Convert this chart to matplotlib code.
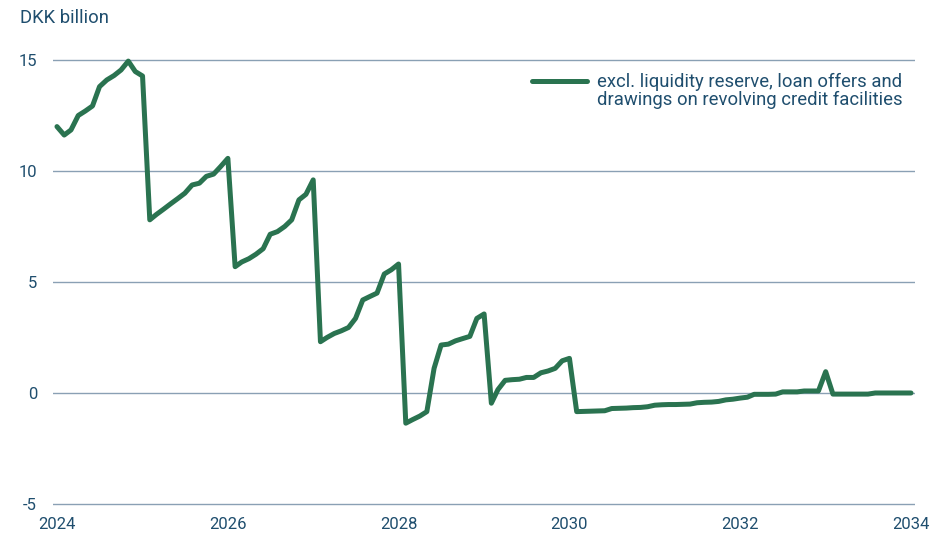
import pandas as pd
import matplotlib
matplotlib.use("Agg")
import matplotlib.pyplot as plt
import matplotlib.dates as mdates
from matplotlib.lines import Line2D

# colours
LINE_COLOR = '#2a7350'
GRID_COLOR = '#8aa0b4'
TEXT_COLOR = '#1f4e6e'

plt.rcParams['font.family'] = ['Roboto', 'DejaVu Sans']

# monthly values, Jan 2024 - Jan 2034 (DKK billion)
months = pd.date_range('2024-01-01', periods=121, freq='MS')
values = [
    12.0, 11.62, 11.85, 12.5, 12.7, 12.93, 13.8, 14.1, 14.3, 14.55, 14.95, 14.48,
    14.28, 7.8, 8.04, 8.28, 8.52, 8.76, 9.0, 9.37, 9.45, 9.76, 9.86, 10.2,
    10.57, 5.69, 5.9, 6.05, 6.25, 6.5, 7.15, 7.27, 7.5, 7.8, 8.7, 8.95,
    9.6, 2.31, 2.5, 2.68, 2.8, 2.95, 3.36, 4.19, 4.35, 4.5, 5.36, 5.55,
    5.81, -1.36, -1.2, -1.04, -0.84, 1.11, 2.16, 2.2, 2.35, 2.45, 2.55, 3.36,
    3.56, -0.46, 0.15, 0.57, 0.6, 0.62, 0.7, 0.7, 0.91, 0.99, 1.11, 1.45,
    1.56, -0.84, -0.83, -0.82, -0.81, -0.80, -0.70, -0.69, -0.68, -0.66, -0.65, -0.62,
    -0.55, -0.53, -0.52, -0.52, -0.51, -0.50, -0.44, -0.42, -0.41, -0.38, -0.31, -0.28,
    -0.23, -0.19, -0.06, -0.06, -0.06, -0.05, 0.05, 0.05, 0.05, 0.09, 0.09, 0.09,
    0.96, -0.05, -0.05, -0.05, -0.05, -0.05, -0.05, 0.0, 0.0, 0.0, 0.0, 0.0,
    0.0,
]
series_label = ['excl. liquidity reserve, loan offers and',
                'drawings on revolving credit facilities']
y_ticks = [-5, 0, 5, 10, 15]
x_tick_years = [2024, 2026, 2028, 2030, 2032, 2034]

fig = plt.figure(figsize=(9.33, 5.34), dpi=100)
ax = fig.add_axes([0.0568, 0.0479, 0.9239, 0.8813])

ax.plot(months, values, color=LINE_COLOR, linewidth=3.6,
        solid_joinstyle='round', solid_capstyle='round', zorder=3)

ax.set_ylim(-5.2, 16)
ax.set_yticks(y_ticks)
ax.set_yticklabels([str(t) for t in y_ticks])
ax.set_xlim(pd.Timestamp('2024-01-01') - pd.Timedelta(days=17),
            pd.Timestamp('2034-01-01') + pd.Timedelta(days=17))
ax.set_xticks([pd.Timestamp(f'{y}-01-01') for y in x_tick_years])
ax.xaxis.set_major_formatter(mdates.DateFormatter('%Y'))

ax.grid(axis='y', color=GRID_COLOR, linewidth=1.0, zorder=1)
ax.grid(axis='x', visible=False)
for s in ax.spines.values():
    s.set_visible(False)
ax.tick_params(axis='y', length=0, pad=11.5, labelsize=12, labelcolor=TEXT_COLOR)
ax.tick_params(axis='x', length=0, pad=6.5, labelsize=12, labelcolor=TEXT_COLOR)

fig.text(20 / 933, 1 - 18 / 534, 'DKK billion', ha='left', va='center',
         fontsize=13.3, color=TEXT_COLOR)

# legend: handle sits next to the first line of the label
handles = [Line2D([], [], color=LINE_COLOR, linewidth=3.6, solid_capstyle='round'),
           Line2D([], [], color='none')]
leg = ax.legend(handles, series_label, loc='upper left',
                bbox_to_anchor=(0.5557, 0.925), frameon=False,
                fontsize=13.3, handlelength=3.0, handletextpad=0.5,
                labelspacing=0.0, borderpad=0, borderaxespad=0)
for t in leg.get_texts():
    t.set_color(TEXT_COLOR)

fig.savefig('out.png', dpi=100)
